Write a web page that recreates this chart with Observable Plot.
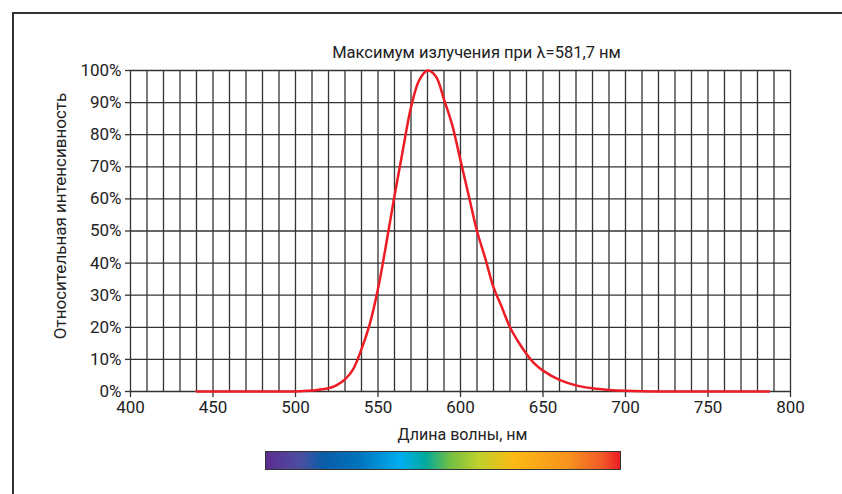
<!DOCTYPE html>
<html>
<head>
<meta charset="utf-8">
<script src="https://cdn.jsdelivr.net/npm/d3@7"></script>
<script src="https://cdn.jsdelivr.net/npm/@observablehq/plot@0.6"></script>
<style>
  html, body { margin: 0; padding: 0; background: #fff; }
  #wrap { position: relative; width: 842px; height: 494px; overflow: hidden; font-family: Roboto, sans-serif; }
  #frame { position: absolute; left: 12px; top: 12px; width: 900px; height: 600px; border-top: 2px solid #333; border-left: 2px solid #333; pointer-events: none; }
  #spectrum { position: absolute; left: 265px; top: 451px; width: 354px; height: 17px; border: 1px solid #333;
    background: linear-gradient(to right, #5c2d91 0%, #4a4fa0 10%, #0a5ca8 16%, #0072bc 26%, #00aeef 38%, #00a99d 45%, #72bf44 52%, #bfd02d 60%, #fdb913 70%, #f7941d 85%, #f15a29 95%, #ed1c24 100%); }
  #chart { position: absolute; left: 0; top: 0; }
</style>
</head>
<body>
<div id="wrap">
  <div id="chart"></div>
  <div id="frame"></div>
  <div id="spectrum"></div>
</div>
<script>
// Wavelength (nm) and relative intensity (%)
const wavelength = [440, 460, 480, 500, 510, 520, 525, 530, 535, 540, 545, 550, 555, 560, 565, 570, 575, 580, 585, 590, 595, 600, 605, 610, 615, 620, 625, 630, 635, 640, 645, 650, 660, 670, 680, 690, 700, 710, 720, 750, 787];
const intensity  = [0, 0, 0, 0, 0.3, 1.0, 2.0, 3.8, 7.0, 13.2, 21, 32, 46, 61, 75, 88.5, 97, 100, 98.2, 91, 83, 72, 61, 50, 41.5, 32.5, 26.3, 20, 15.5, 11.7, 8.6, 6.5, 3.6, 1.9, 1.0, 0.5, 0.2, 0.05, 0, 0, 0];

const xTicks = [400, 450, 500, 550, 600, 650, 700, 750, 800];
const yTicks = [0, 10, 20, 30, 40, 50, 60, 70, 80, 90, 100];
const xGrid = d3.range(400, 801, 10);

const titleText = "Максимум излучения при λ=581,7 нм";
const xLabel = "Длина волны, нм";
const yLabel = "Относительная интенсивность";

const data = wavelength.map((w, i) => ({w, v: intensity[i]}));

const chart = Plot.plot({
  width: 842,
  height: 494,
  marginLeft: 130,
  marginRight: 52,
  marginTop: 70,
  marginBottom: 103,
  style: {fontFamily: "Roboto, sans-serif", fontSize: "17px", color: "#222", background: "transparent"},
  x: {domain: [400, 800]},
  y: {domain: [0, 100]},
  marks: [
    Plot.ruleX(xGrid, {stroke: "#333", strokeWidth: 1.3}),
    Plot.ruleY(yTicks, {stroke: "#333", strokeWidth: 1.3}),
    Plot.axisX({ticks: xTicks, tickSize: 6, tickPadding: 3, tickFormat: d => String(d), label: null, stroke: "#333", strokeWidth: 1.3, fontSize: 17}),
    Plot.axisY({ticks: yTicks, tickSize: 5, tickPadding: 4, tickFormat: d => d + "%", label: null, stroke: "#333", strokeWidth: 1.3, fontSize: 17}),
    Plot.line(data, {x: "w", y: "v", stroke: "#ee1c25", strokeWidth: 2.5, curve: "catmull-rom"}),
    Plot.text([titleText], {frameAnchor: "top", dx: 16, dy: -18, fontSize: 16.5, fill: "#222", lineAnchor: "middle"}),
    Plot.text([xLabel], {frameAnchor: "bottom", dx: 2, dy: 43, fontSize: 16, fill: "#222", lineAnchor: "middle"}),
    Plot.text([yLabel], {frameAnchor: "left", textAnchor: "middle", dx: -70, dy: -15, rotate: -90, fontSize: 17, fill: "#222", lineAnchor: "middle"})
  ]
});
document.getElementById("chart").appendChild(chart);
</script>
</body>
</html>
